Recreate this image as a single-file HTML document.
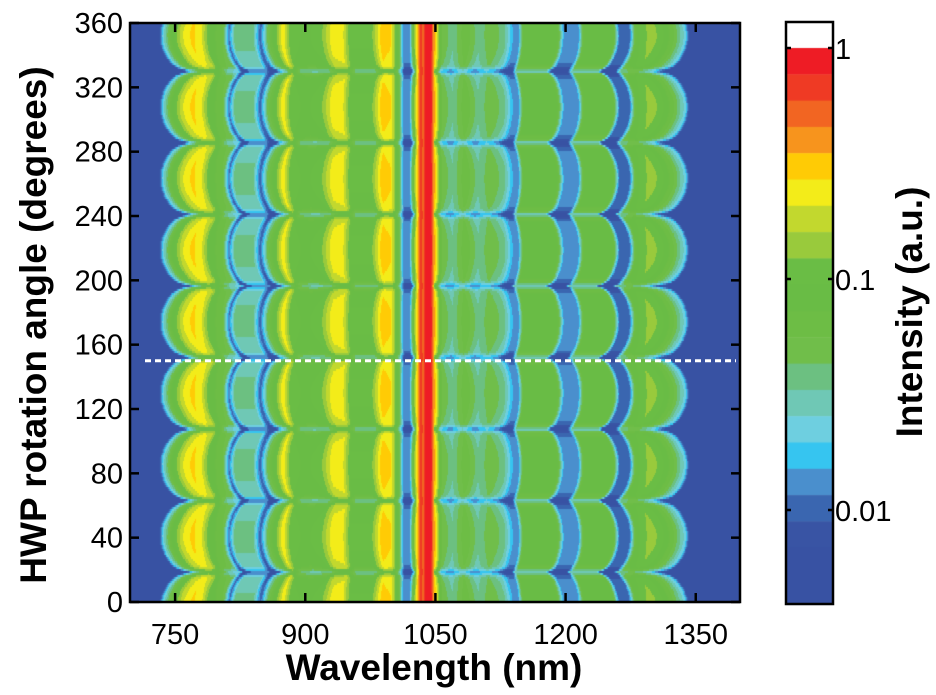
<!DOCTYPE html>
<html><head><meta charset="utf-8">
<style>
html,body{margin:0;padding:0;background:#fff;}
#wrap{position:relative;width:936px;height:695px;overflow:hidden;font-family:"Liberation Sans",Arial,sans-serif;}
canvas{position:absolute;left:0;top:0;}
svg{position:absolute;left:0;top:0;}
</style></head>
<body>
<div id="wrap">
<canvas id="heat" width="936" height="695"></canvas>
<svg id="ov" width="936" height="695"></svg>
</div>
<script>
// ---- data arrays ----
const xTicks = [750, 900, 1050, 1200, 1350];
const yTicks = [0, 40, 80, 120, 160, 200, 240, 280, 320, 360];
const cbTickLabels = ["1", "0.1", "0.01"];
const cbTickLogs = [0, -1, -2];
// spectrum at lobe centre: wavelength (nm) and log10 intensity
const specWl = [698,728,736,745,758,770,780,790,805,812,818,840,848,856,864,874,882,900,918,930,942,952,975,988,998,1006,1013,1020,1026,1030,1033,1036,1039,1045,1048,1052,1058,1070,1085,1100,1115,1130,1140,1146,1152,1190,1198,1215,1222,1255,1262,1274,1282,1298,1310,1325,1338,1346,1401];
const specLog = [-2.5,-2.5,-1.7,-1.2,-0.75,-0.58,-0.7,-1.1,-1.3,-2.0,-1.5,-1.5,-2.05,-1.4,-1.1,-0.62,-1.0,-1.1,-1.0,-0.68,-0.65,-1.05,-1.05,-0.55,-0.6,-1.1,-1.9,-1.9,-0.9,-0.45,-0.1,-0.3,-0.05,-0.05,-0.4,-0.7,-1.3,-1.5,-1.2,-1.5,-1.3,-1.5,-1.9,-1.9,-1.1,-1.1,-1.9,-1.9,-1.1,-1.1,-2.0,-2.0,-1.1,-0.9,-1.0,-1.3,-1.7,-2.5,-2.5];
const lobePeriod = [44.5];
const lobeBoundary = [152];
const stretch = [0.11];
const centerWl = [1038];
const dashedAngle = [150];
const bandColors = ["#ee1c25","#ef3a24","#f26522","#f7941d","#ffcb05","#f3ec19","#c2d82e","#99ca3c","#6abd45","#69bc45","#6dbd45","#70be4a","#6cc081","#6fc8b5","#6ecfe0","#36c5f0","#4a8fcd","#3a66b0","#3954a4","#3852a3"];

// ---- scales ----
const X0=130, X1=740, Y0=23, Y1=602;
const WMIN=698, WMAX=1401;
const xS = w => X0 + (w-WMIN)*(X1-X0)/(WMAX-WMIN);
const xInv = px => WMIN + (px-X0)*(WMAX-WMIN)/(X1-X0);
const yS = a => Y1 - a*(Y1-Y0)/360;
const yInv = py => (Y1-py)*360/(Y1-Y0);
const CB_TOP=48, CB_DEC=231, CB_L=786, CB_R=833, CB_BOT=604;
const cbY = l => CB_TOP + (-l)*CB_DEC;
const BAND = 1/ (CB_DEC/26.3);

function specAt(w){
  if (w<=specWl[0]) return specLog[0];
  for (let i=1;i<specWl.length;i++){
    if (w<=specWl[i]){const t=(w-specWl[i-1])/(specWl[i]-specWl[i-1]);return specLog[i-1]+t*(specLog[i]-specLog[i-1]);}
  }
  return specLog[specLog.length-1];
}
function colorFor(l){
  let b=Math.floor(-l/BAND); if(b<0)b=0; if(b>19)b=19; return bandColors[b];
}
function value(w,a){
  let ph=((a-lobeBoundary[0])/lobePeriod[0])%1; if(ph<0)ph+=1;
  const k = 1+stretch[0]-stretch[0]*Math.sqrt(Math.max(0,1-(2*ph-1)*(2*ph-1)));
  const src = centerWl[0] + (w-centerWl[0])*k;
  let l = specAt(src);
  const d = Math.min(ph,1-ph);
  if (Math.abs(w-centerWl[0])>10) l += -0.35*Math.exp(-d*d/0.002) + 0.12*(Math.sin(Math.PI*ph)-0.6);
  return l;
}

// ---- draw heatmap ----
const cv=document.getElementById('heat'); const ctx=cv.getContext('2d');
const step=2;
for(let py=Y0;py<Y1;py+=step){
  const a=yInv(py+step/2);
  for(let px=X0;px<X1;px+=1){
    const w=xInv(px+0.5);
    ctx.fillStyle=colorFor(value(w,a));
    ctx.fillRect(px,py,1,step);
  }
}
// colorbar
ctx.fillStyle="#fff"; ctx.fillRect(CB_L,22,CB_R-CB_L,CB_TOP-22);
for(let i=0;i<bandColors.length;i++){
  const top=cbY(-i*BAND), bot=(i==bandColors.length-1)?CB_BOT:cbY(-(i+1)*BAND);
  ctx.fillStyle=bandColors[i]; ctx.fillRect(CB_L,top,CB_R-CB_L,bot-top+0.5);
}

// ---- overlay svg ----
const NS="http://www.w3.org/2000/svg"; const svg=document.getElementById('ov');
function mk(tag,attrs,txt){const e=document.createElementNS(NS,tag);for(const k in attrs)e.setAttribute(k,attrs[k]);if(txt!==undefined)e.textContent=txt;svg.appendChild(e);return e;}
let e;
e=mk('line',{x1:xS(WMIN)+15,x2:X1-4,y1:yS(dashedAngle[0]),y2:yS(dashedAngle[0]),stroke:'#fff','stroke-width':3,'stroke-dasharray':'6,4'});


e=mk('rect',{x:X0,y:Y0,width:X1-X0,height:Y1-Y0,fill:'none',stroke:'#000','stroke-width':2.5});


xTicks.forEach(t=>{
  const x=xS(t);
  mk('line',{x1:x,x2:x,y1:Y1,y2:Y1-9,stroke:'#000','stroke-width':2.5});
  mk('line',{x1:x,x2:x,y1:Y0,y2:Y0+9,stroke:'#000','stroke-width':2.5});
  e=mk('text',{x:x,y:Y1+42,'text-anchor':'middle','font-size':29,fill:'#000'},String(t));
  
  
});
yTicks.forEach(t=>{
  const y=yS(t);
  mk('line',{x1:X0,x2:X0+9,y1:y,y2:y,stroke:'#000','stroke-width':2.5});
  mk('line',{x1:X1,x2:X1-9,y1:y,y2:y,stroke:'#000','stroke-width':2.5});
  e=mk('text',{x:X0-7,y:y+10,'text-anchor':'end','font-size':29,fill:'#000'},String(t));
  
  
});
e=mk('text',{x:434,y:680,'text-anchor':'middle','font-size':37,'font-weight':'bold',fill:'#000'},'Wavelength (nm)');


e=mk('text',{x:0,y:0,'text-anchor':'middle','font-size':37,'font-weight':'bold',fill:'#000',transform:'translate(46,325) rotate(-90)'},'HWP rotation angle (degrees)');


// colorbar frame & ticks
e=mk('rect',{x:CB_L,y:22,width:CB_R-CB_L,height:CB_BOT-22,fill:'none',stroke:'#000','stroke-width':2.5});


cbTickLogs.forEach((l,i)=>{
  const y=cbY(l);
  mk('line',{x1:CB_L,x2:CB_L+5,y1:y,y2:y,stroke:'#000','stroke-width':2.5});
  mk('line',{x1:CB_R,x2:CB_R-5,y1:y,y2:y,stroke:'#000','stroke-width':2.5});
  e=mk('text',{x:CB_R+2,y:y+11,'font-size':29,fill:'#000'},cbTickLabels[i]);
  
  
});
e=mk('text',{x:0,y:0,'text-anchor':'middle','font-size':37,'font-weight':'bold',fill:'#000',transform:'translate(922,312) rotate(-90)'},'Intensity (a.u.)');


</script>
</body></html>
